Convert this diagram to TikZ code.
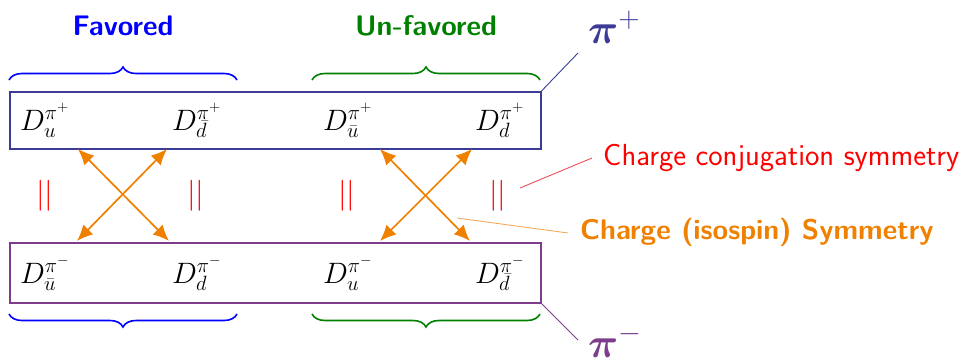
\RequirePackage{fix-cm}
\documentclass[tikz,border=0pt]{standalone}
\usepackage{bm}
\usetikzlibrary{decorations.pathreplacing,arrows.meta}
\definecolor{topboxc}{RGB}{60,60,150}
\definecolor{botboxc}{RGB}{125,60,140}
\definecolor{favc}{RGB}{0,0,255}
\definecolor{unfavc}{RGB}{0,128,0}
\definecolor{ccsc}{RGB}{255,0,0}
\definecolor{ccsline}{RGB}{240,80,90}
\definecolor{isoc}{RGB}{240,128,0}
\definecolor{isoline}{RGB}{245,170,90}
\begin{document}
\begin{tikzpicture}[x=1pt,y=-1pt,
  dlabel/.style={anchor=base west, inner sep=0pt, font=\fontsize{29.5}{34}\selectfont},
  sidetext/.style={anchor=base west, inner sep=0pt, font=\fontsize{30.5}{35}\selectfont\sffamily},
  headtext/.style={anchor=base, inner sep=0pt, font=\fontsize{28.3}{33}\selectfont\sffamily\bfseries},
  eqmark/.style={inner sep=0pt, text=ccsc, font=\fontsize{31}{36}\selectfont},
  bracec/.style={decorate, decoration={brace, amplitude=13pt}, line width=1.6pt},
  isoarrow/.style={draw=isoc, line width=1.7pt, {Latex[length=16pt,width=14pt]}-{Latex[length=16pt,width=14pt]}},
  pilabel/.style={anchor=base west, inner sep=0pt, font=\fontsize{42}{48}\selectfont}]
\useasboundingbox (0,0) rectangle (966,359);

% boxes
\node[draw=topboxc, line width=1.5pt, minimum width=531pt, minimum height=57pt, inner sep=0pt, anchor=north west] (topbox) at (9,91) {};
\node[draw=botboxc, line width=1.5pt, minimum width=531pt, minimum height=60pt, inner sep=0pt, anchor=north west] (botbox) at (9,242) {};

% D labels
\node[dlabel] (t1) at (20,130) {$D_u^{\pi^+}$};
\node[dlabel] (t2) at (172,130) {$D_{\bar d}^{\pi^+}$};
\node[dlabel] (t3) at (323,130) {$D_{\bar u}^{\pi^+}$};
\node[dlabel] (t4) at (475,130) {$D_d^{\pi^+}$};
\node[dlabel] (b1) at (20,283) {$D_{\bar u}^{\pi^-}$};
\node[dlabel] (b2) at (172,283) {$D_d^{\pi^-}$};
\node[dlabel] (b3) at (323,283) {$D_u^{\pi^-}$};
\node[dlabel] (b4) at (475,283) {$D_{\bar d}^{\pi^-}$};

% headers
\node[headtext, text=favc] (fav) at (123,35) {Favored};
\node[headtext, text=unfavc] (unfav) at (426,35) {Un-favored};

% braces
\coordinate (fb1) at (9,80);
\coordinate (fb2) at (237,80);
\coordinate (ub1) at (312,80);
\coordinate (ub2) at (540,80);
\draw[bracec, favc] (fb1) -- (fb2);
\draw[bracec, unfavc] (ub1) -- (ub2);
\coordinate (fb3) at (237,314);
\coordinate (fb4) at (9,314);
\coordinate (ub3) at (540,314);
\coordinate (ub4) at (312,314);
\draw[bracec, favc] (fb3) -- (fb4);
\draw[bracec, unfavc] (ub3) -- (ub4);

% equality marks
\node[eqmark] (e1) at (45,196) {$||$};
\node[eqmark] (e2) at (196,196) {$||$};
\node[eqmark] (e3) at (347,196) {$||$};
\node[eqmark] (e4) at (498,196) {$||$};

% arrows
\coordinate (a1t) at (78,149);
\coordinate (a1b) at (169,241);
\coordinate (a2t) at (167,149);
\coordinate (a2b) at (77,241);
\coordinate (a3t) at (380,149);
\coordinate (a3b) at (470,241);
\coordinate (a4t) at (472,149);
\coordinate (a4b) at (380,241);
\draw[isoarrow] (a1t) -- (a1b);
\draw[isoarrow] (a2t) -- (a2b);
\draw[isoarrow] (a3t) -- (a3b);
\draw[isoarrow] (a4t) -- (a4b);

% side labels
\node[sidetext, text=ccsc] (ccs) at (603,165) {Charge conjugation symmetry};
\node[sidetext, text=isoc, font=\fontsize{28.4}{33}\selectfont\sffamily\bfseries] (iso) at (580,239) {Charge (isospin) Symmetry};
\coordinate (ccsA) at (520,188);
\coordinate (ccsB) at (592,158);
\draw[ccsline, line width=0.9pt] (ccsA) -- (ccsB);
\coordinate (isoA) at (457,218);
\coordinate (isoB) at (568,233);
\draw[isoline, line width=0.9pt] (isoA) -- (isoB);

% pi labels
\node[pilabel, text=topboxc] (piplus) at (588,43) {$\bm{\pi}^+$};
\node[pilabel, text=botboxc] (piminus) at (588,357) {$\bm{\pi}^-$};
\coordinate (ppl) at (578,53);
\coordinate (pml) at (578,340);
\draw[topboxc, line width=0.9pt] (topbox.north east) -- (ppl);
\draw[botboxc, line width=0.9pt] (botbox.south east) -- (pml);
\end{tikzpicture}
\end{document}
